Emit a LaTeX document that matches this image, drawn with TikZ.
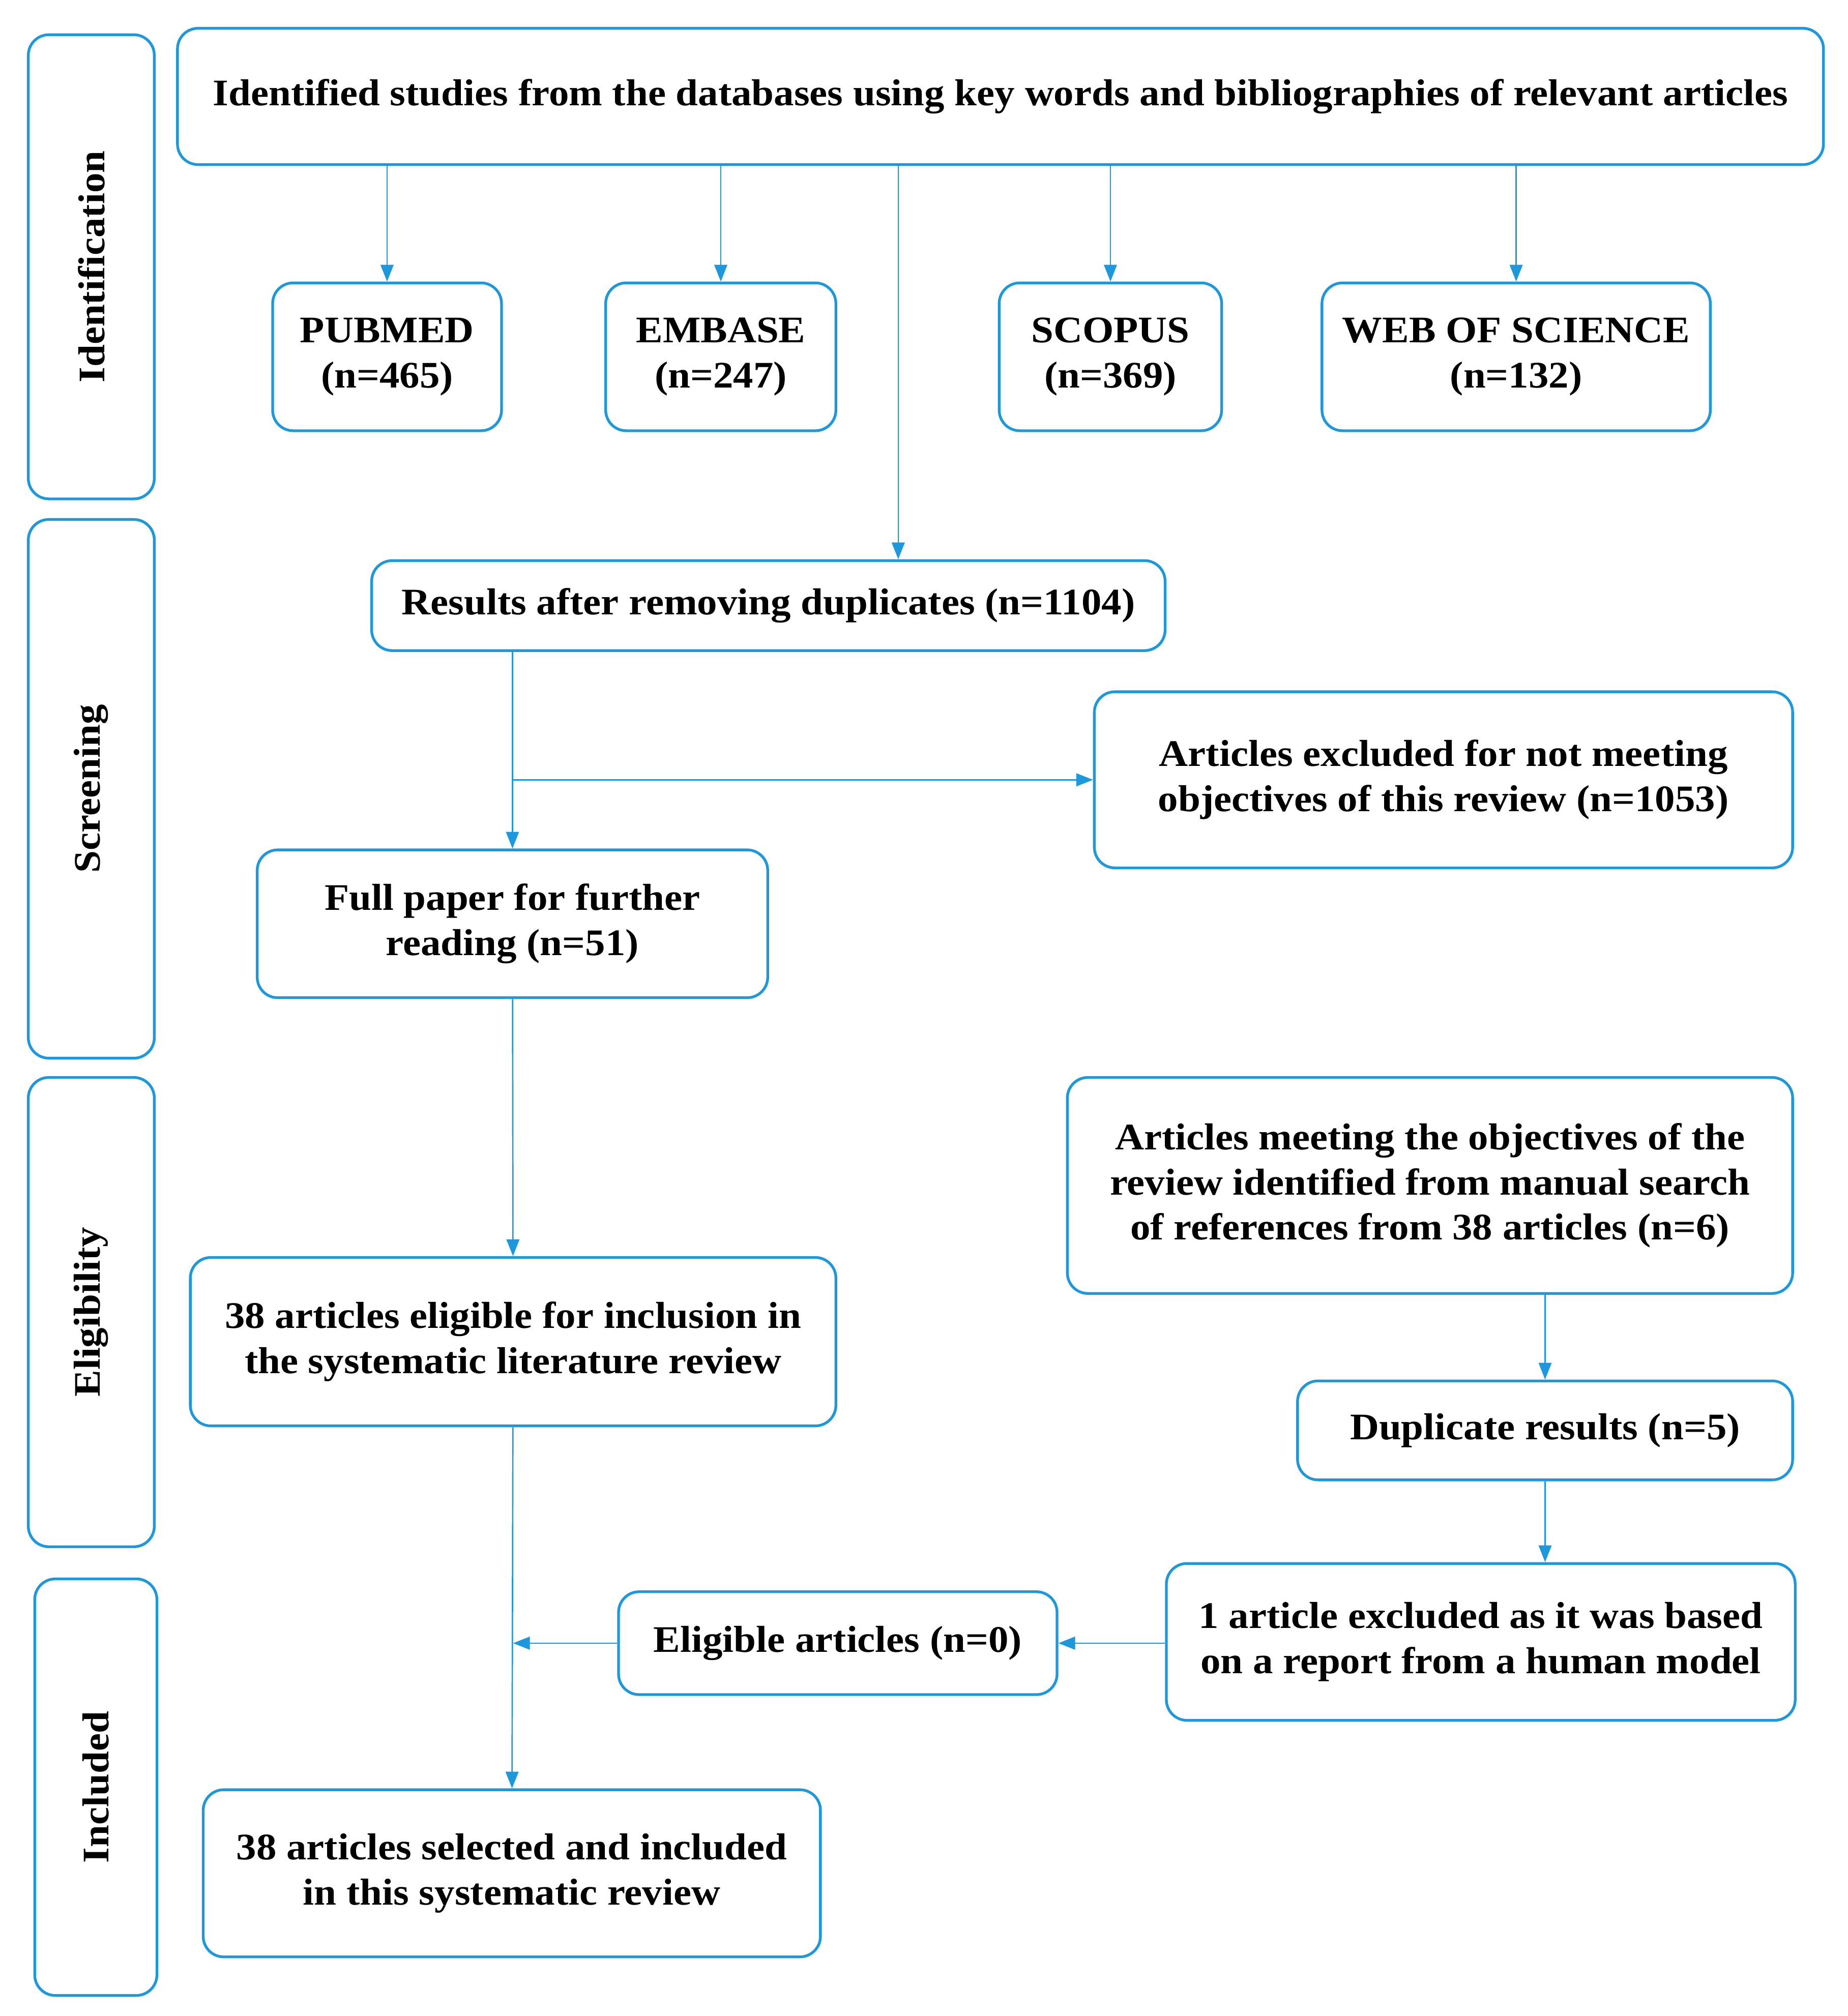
\documentclass[tikz,border=0pt]{standalone}
\usepackage{fontspec}
\setmainfont[FakeStretch=1.07]{Liberation Serif}
\usetikzlibrary{arrows.meta,positioning,calc}
\definecolor{flowblue}{RGB}{30,152,220}
\tikzset{
  box/.style={rectangle, rounded corners=1.6mm, draw=flowblue, line width=0.6pt,
              align=center, inner sep=0pt, font=\bfseries\fontsize{8.3}{10}\selectfont},
  stagebox/.style={box, rounded corners=1.6mm, rotate=90},
  arrow/.style={-{Triangle[length=1.3mm, width=1.0mm]}, draw=flowblue, line width=0.3pt},
}
\begin{document}
\begin{tikzpicture}[x=0.1mm, y=-0.1mm]
\useasboundingbox (0,0) rectangle (1437,1568);
% stages
\node[stagebox, minimum width=36.1mm, minimum height=9.8mm] (ident) at (71,207.5) {Identification};
\node[stagebox, minimum width=41.9mm, minimum height=9.8mm] (screen) at (71,613.5) {Screening};
\node[stagebox, minimum width=36.5mm, minimum height=9.8mm] (eligib) at (71,1020.5) {Eligibility};
\node[stagebox, minimum width=32.4mm, minimum height=9.5mm] (incl) at (74.5,1390) {Included};
% identification
\node[box, minimum width=128mm, minimum height=10.6mm] (top) at (778,75)
  {Identified studies from the databases using key words and bibliographies of relevant articles};
\node[box, minimum width=17.8mm, minimum height=11.5mm] (pub) at (301,277.5) {PUBMED\\(n=465)};
\node[box, minimum width=17.9mm, minimum height=11.5mm] (emb) at (560.5,277.5) {EMBASE\\(n=247)};
\node[box, minimum width=17.3mm, minimum height=11.5mm] (sco) at (863.5,277.5) {SCOPUS\\(n=369)};
\node[box, minimum width=30.2mm, minimum height=11.5mm] (wos) at (1179,277.5) {WEB OF SCIENCE\\(n=132)};
% screening
\node[box, minimum width=61.7mm, minimum height=7mm] (res) at (597.5,471) {Results after removing duplicates (n=1104)};
\node[box, minimum width=54.3mm, minimum height=13.7mm] (excl) at (1122.5,606.5)
  {Articles excluded for not meeting\\objectives of this review (n=1053)};
\node[box, minimum width=39.7mm, minimum height=11.5mm] (full) at (398.5,718.5) {Full paper for further\\reading (n=51)};
% eligibility
\node[box, minimum width=50.2mm, minimum height=13.1mm] (elig) at (399,1043.5)
  {38 articles eligible for inclusion in\\the systematic literature review};
\node[box, minimum width=56.4mm, minimum height=16.8mm] (manual) at (1112,922)
  {Articles meeting the objectives of the\\review identified from manual search\\of references from 38 articles (n=6)};
\node[box, minimum width=38.5mm, minimum height=7.7mm] (dup) at (1201.5,1112.5) {Duplicate results (n=5)};
% included
\node[box, minimum width=48.9mm, minimum height=12.2mm] (one) at (1151.5,1277)
  {1 article excluded as it was based\\on a report from a human model};
\node[box, minimum width=34.1mm, minimum height=8mm] (zero) at (651.5,1278) {Eligible articles (n=0)};
\node[box, minimum width=48mm, minimum height=13mm] (sel) at (398,1457)
  {38 articles selected and included\\in this systematic review};
% connectors
\foreach \db in {pub, emb, sco, wos}
  \draw[arrow] (top.south -| \db.north) -- (\db.north);
\coordinate (resin) at ($(res.north)+(101,0)$);
\draw[arrow] (top.south -| resin) -- (resin);
\draw[arrow] (res.south -| full.north) -- (full.north);
\coordinate (branch) at (full.north |- excl.west);
\draw[arrow] (branch) -- (excl.west);
\draw[arrow] (full) -- (elig);
\draw[arrow] (elig) -- (sel);
\draw[arrow] (manual.south -| dup.north) -- (dup.north);
\draw[arrow] (dup.south) -- (dup.south |- one.north);
\draw[arrow] (one.west |- zero.east) -- (zero.east);
\draw[arrow] (zero.west) -- (zero.west -| elig.south);
\end{tikzpicture}
\end{document}
